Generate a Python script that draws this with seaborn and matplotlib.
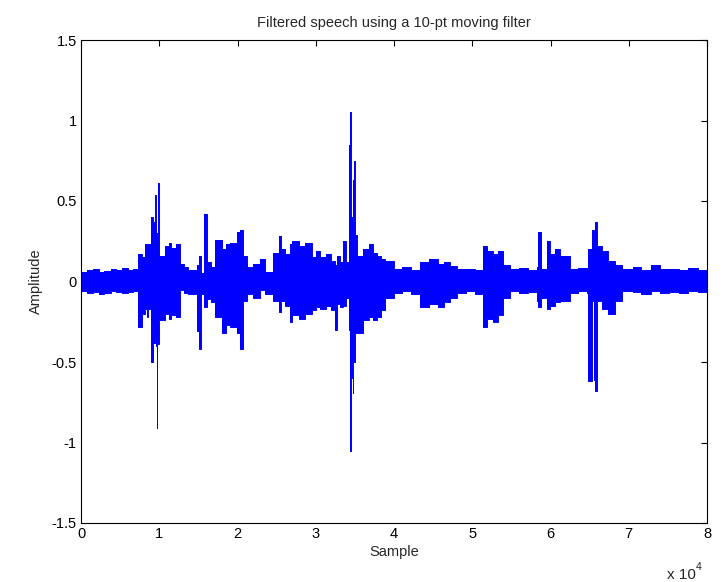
import matplotlib
matplotlib.use("Agg")
import matplotlib.pyplot as plt
import seaborn as sns
import pandas as pd

# Envelope of the filtered speech signal
# (segment start sample, upper peak, lower peak); step segments
seg_start = [0, 800, 1500, 2300, 3000, 3800, 4500, 5200, 6000, 6700,
             7300, 7750, 8180, 8390, 8600, 8900, 9160, 9240, 9500, 9630,
             9670, 9750, 9840, 9970, 10740, 11200, 11500, 12100, 12650, 13200,
             13720, 14780, 15100, 15300, 15700, 16060, 16600, 17120, 17980, 18500,
             19040, 19900, 20320, 20750, 21170, 22000, 22880, 23520, 24580, 25300,
             25500, 26100, 26700, 26950, 27800, 28600, 29480, 30000, 30530, 31300,
             32000, 32500, 32700, 33100, 33530, 33870, 34290, 34380, 34420, 34480,
             34700, 34780, 34900, 34980, 35320, 36080, 36800, 37300, 37800, 38300,
             38860, 39960, 41000, 42200, 43330, 44500, 45600, 46400, 47160, 48010,
             49200, 50300, 51420, 51850, 52600, 53300, 53980, 54830, 56000, 57100,
             58240, 58450, 58750, 59520, 59940, 60600, 61220, 62500, 63500, 64630,
             64840, 65350, 65560, 65730, 65990, 66520, 67380, 68200, 69090, 70500,
             71600, 72800, 74000, 75200, 76400, 77600, 78800, 80000]
seg_upper = [0.06, 0.07, 0.075, 0.06, 0.065, 0.08, 0.07, 0.085, 0.07, 0.075,
             0.17, 0.15, 0.23, 0.18, 0.23, 0.40, 0.25, 0.37, 0.54, 0.30,
             0.20, 0.30, 0.61, 0.16, 0.22, 0.24, 0.21, 0.23, 0.11, 0.09,
             0.07, 0.10, 0.16, 0.05, 0.42, 0.12, 0.09, 0.26, 0.20, 0.23,
             0.24, 0.31, 0.32, 0.16, 0.09, 0.11, 0.14, 0.06, 0.18, 0.28,
             0.20, 0.17, 0.23, 0.25, 0.22, 0.24, 0.15, 0.19, 0.15, 0.17,
             0.13, 0.10, 0.16, 0.12, 0.25, 0.12, 0.85, 0.40, 1.05, 0.40,
             0.63, 0.35, 0.75, 0.29, 0.16, 0.20, 0.23, 0.18, 0.16, 0.14,
             0.13, 0.08, 0.09, 0.07, 0.12, 0.14, 0.11, 0.12, 0.095, 0.075,
             0.08, 0.07, 0.22, 0.19, 0.17, 0.19, 0.10, 0.075, 0.085, 0.07,
             0.09, 0.31, 0.075, 0.25, 0.17, 0.20, 0.16, 0.075, 0.085, 0.07,
             0.20, 0.32, 0.27, 0.37, 0.22, 0.19, 0.13, 0.10, 0.075, 0.09,
             0.07, 0.10, 0.075, 0.08, 0.07, 0.085, 0.07, 0.07]
seg_lower = [-0.06, -0.07, -0.065, -0.075, -0.07, -0.06, -0.065, -0.07, -0.065, -0.06,
             -0.28, -0.20, -0.17, -0.22, -0.17, -0.50, -0.30, -0.38, -0.35, -0.40,
             -0.91, -0.35, -0.39, -0.24, -0.20, -0.23, -0.21, -0.22, -0.05, -0.07,
             -0.08, -0.31, -0.42, -0.08, -0.16, -0.11, -0.13, -0.22, -0.32, -0.27,
             -0.28, -0.32, -0.42, -0.12, -0.08, -0.10, -0.05, -0.08, -0.12, -0.19,
             -0.12, -0.15, -0.25, -0.21, -0.23, -0.20, -0.18, -0.16, -0.17, -0.15,
             -0.18, -0.30, -0.14, -0.16, -0.15, -0.10, -0.30, -0.86, -1.05, -0.60,
             -0.69, -0.40, -0.50, -0.32, -0.32, -0.24, -0.22, -0.24, -0.22, -0.18,
             -0.10, -0.07, -0.06, -0.075, -0.16, -0.14, -0.16, -0.13, -0.10, -0.07,
             -0.06, -0.075, -0.28, -0.23, -0.25, -0.21, -0.10, -0.06, -0.07, -0.065,
             -0.12, -0.16, -0.10, -0.17, -0.15, -0.13, -0.12, -0.07, -0.06, -0.07,
             -0.62, -0.12, -0.61, -0.68, -0.12, -0.17, -0.20, -0.12, -0.06, -0.065,
             -0.075, -0.06, -0.07, -0.065, -0.07, -0.06, -0.065, -0.06]

x_ticks = [0, 10000, 20000, 30000, 40000, 50000, 60000, 70000, 80000]
x_tick_labels = ["0", "1", "2", "3", "4", "5", "6", "7", "8"]
y_ticks = [-1.5, -1, -0.5, 0, 0.5, 1, 1.5]
y_tick_labels = ["-1.5", "-1", "-0.5", "0", "0.5", "1", "1.5"]

sns.set_style("white")
plt.rcParams['font.family'] = ['Liberation Sans', 'DejaVu Sans']

fig = plt.figure(figsize=(7.24, 5.82), dpi=100)
ax = fig.add_axes([81/724, 59/582, 626/724, 483/582])

df = pd.DataFrame({"sample": seg_start, "upper": seg_upper, "lower": seg_lower})
blue = (0, 0, 1)
ax.fill_between(df["sample"], df["lower"], df["upper"], step="post",
                color=blue, linewidth=0)
sns.lineplot(data=df, x="sample", y="upper", ax=ax, color=blue, lw=0.7,
             drawstyle="steps-post", estimator=None, sort=False)
sns.lineplot(data=df, x="sample", y="lower", ax=ax, color=blue, lw=0.7,
             drawstyle="steps-post", estimator=None, sort=False)

ax.set_xlim(0, 80000)
ax.set_ylim(-1.5, 1.5)
ax.set_xticks(x_ticks)
ax.set_xticklabels(x_tick_labels)
ax.set_yticks(y_ticks)
ax.set_yticklabels(y_tick_labels)
ax.tick_params(direction="in", length=4, width=0.8, top=True, right=True,
               labelsize=10.5, colors="black", pad=3)
for s in ax.spines.values():
    s.set_visible(True)
    s.set_color("black")
    s.set_linewidth(0.8)

ax.set_title("Filtered speech using a 10-pt moving filter", fontsize=10.5, pad=9)
ax.set_xlabel("Sample", fontsize=10.5, labelpad=3)
ax.set_ylabel("Amplitude", fontsize=10.5, labelpad=6)
fig.text(667/724, 1 - 579/582, "x 10", fontsize=11, va="baseline", ha="left")
fig.text(696/724, 1 - 570/582, "4", fontsize=7.5, va="baseline", ha="left")

fig.savefig("out.png", dpi=100)
